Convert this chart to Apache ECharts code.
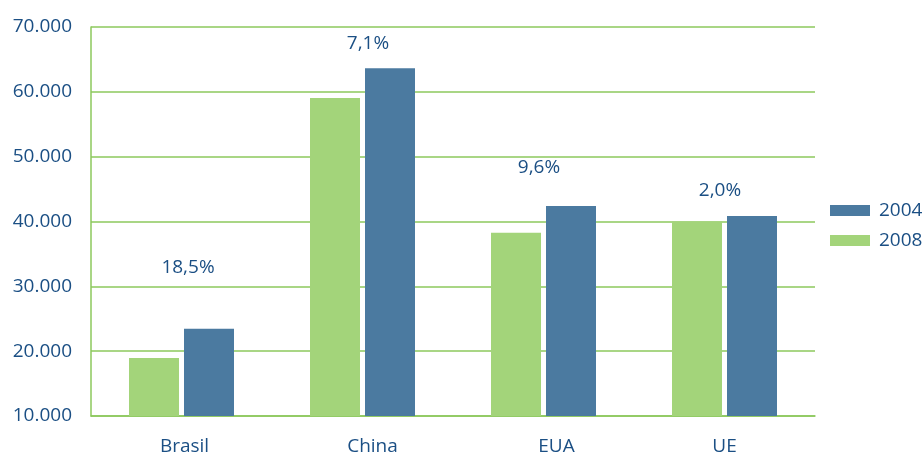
<!DOCTYPE html>
<html>
<head>
<meta charset="utf-8">
<script src="https://cdn.jsdelivr.net/npm/echarts@6/dist/echarts.min.js"></script>
<style>html,body{margin:0;padding:0;background:#fff}#c{width:924px;height:454px}</style>
</head>
<body>
<div id="c"></div>
<script>
var categories = ['Brasil', 'China', 'EUA', 'UE'];
var values2008 = [18950, 59050, 38250, 39950];
var values2004 = [23450, 63650, 42400, 40850];
var growthLabels = ['18,5%', '7,1%', '9,6%', '2,0%'];
var yTicks = [10000, 20000, 30000, 40000, 50000, 60000, 70000];

// label placement (style only)
var labelOffsets = [[-21, -47], [-22, -10], [-32, -24], [-32, -11]];
var catLabelPadLeft = [6, 20, 26, 0];

var textColor = '#1b4f84';
var gridColor = '#8cc85c';
var font = 'Open Sans';

var chart = echarts.init(document.getElementById('c'));
chart.setOption({
  animation: false,
  grid: { left: 91, right: 109, top: 27, bottom: 38, outerBoundsMode: 'none', containLabel: false },
  legend: {
    orient: 'vertical',
    left: 830, top: 201, padding: 0,
    itemWidth: 40, itemHeight: 11, itemGap: 11,
    data: ['2004', '2008'],
    textStyle: { color: textColor, fontSize: 19, fontFamily: font, padding: [0, 0, 0, 4] },
    icon: 'rect'
  },
  xAxis: {
    type: 'category',
    data: categories.map(function (c, i) {
      return { value: c, textStyle: { padding: [0, 0, 0, catLabelPadLeft[i]] } };
    }),
    axisLine: { lineStyle: { color: gridColor, width: 1.5 } },
    axisTick: { show: false },
    axisLabel: { color: textColor, fontSize: 19, fontFamily: font, margin: 21 }
  },
  yAxis: {
    type: 'value',
    min: yTicks[0], max: yTicks[yTicks.length - 1], interval: 10000,
    axisLine: { show: true, lineStyle: { color: gridColor, width: 1.5 } },
    axisTick: { show: false },
    splitLine: { lineStyle: { color: gridColor, width: 1.5 } },
    axisLabel: {
      color: textColor, fontSize: 19, fontFamily: font, margin: 19,
      formatter: function (v) { return (v / 1000).toFixed(0) + '.000'; }
    }
  },
  series: [
    {
      name: '2008', type: 'bar', data: values2008,
      barWidth: 50, barGap: '10%',
      itemStyle: { color: '#a3d47a' }
    },
    {
      name: '2004', type: 'bar',
      data: values2004.map(function (v, i) {
        return {
          value: v,
          label: {
            show: true, position: 'top', distance: 5,
            offset: labelOffsets[i],
            formatter: growthLabels[i],
            color: textColor, fontSize: 19, fontFamily: font
          }
        };
      }),
      barWidth: 50, barGap: '10%',
      itemStyle: { color: '#4b7aa0' }
    }
  ]
});
</script>
</body>
</html>
